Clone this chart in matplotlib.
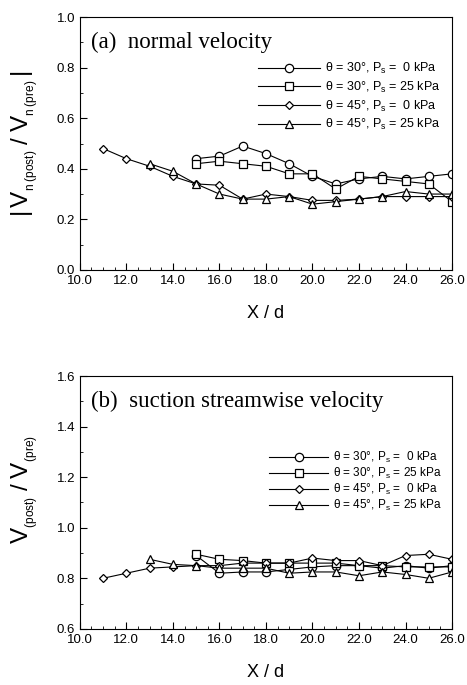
import numpy as np
import matplotlib
matplotlib.use('Agg')
from matplotlib import pyplot as plt
from matplotlib.ticker import MultipleLocator

# X/d positions
x_a30 = [15, 16, 17, 18, 19, 20, 21, 22, 23, 24, 25, 26]
x_a45p0 = [11, 12, 13, 14, 15, 16, 17, 18, 19, 20, 21, 22, 23, 24, 25, 26]
x_a45p25 = [13, 14, 15, 16, 17, 18, 19, 20, 21, 22, 23, 24, 25, 26]

# (a) normal velocity ratio
a_30_0 = [0.44, 0.45, 0.49, 0.46, 0.42, 0.37, 0.34, 0.36, 0.37, 0.36, 0.37, 0.38]
a_30_25 = [0.42, 0.43, 0.42, 0.41, 0.38, 0.38, 0.32, 0.37, 0.36, 0.35, 0.34, 0.27]
a_45_0 = [0.48, 0.44, 0.41, 0.37, 0.34, 0.335, 0.28, 0.30, 0.29, 0.275, 0.275, 0.28, 0.29, 0.29, 0.29, 0.29]
a_45_25 = [0.42, 0.39, 0.34, 0.30, 0.28, 0.28, 0.29, 0.26, 0.27, 0.28, 0.29, 0.31, 0.30, 0.30]

# (b) suction streamwise velocity ratio
x_b30 = [15, 16, 17, 18, 19, 20, 21, 22, 23, 24, 25, 26]
x_b45p0 = [11, 12, 13, 14, 15, 16, 17, 18, 19, 20, 21, 22, 23, 24, 25, 26]
x_b45p25 = [13, 14, 15, 16, 17, 18, 19, 20, 21, 22, 23, 24, 25, 26]
b_30_0 = [0.89, 0.82, 0.825, 0.825, 0.835, 0.845, 0.85, 0.85, 0.84, 0.85, 0.84, 0.85]
b_30_25 = [0.895, 0.875, 0.87, 0.86, 0.86, 0.86, 0.86, 0.85, 0.85, 0.845, 0.845, 0.845]
b_45_0 = [0.80, 0.82, 0.84, 0.845, 0.85, 0.85, 0.86, 0.86, 0.86, 0.88, 0.87, 0.87, 0.85, 0.89, 0.895, 0.875]
b_45_25 = [0.875, 0.855, 0.85, 0.84, 0.84, 0.84, 0.82, 0.825, 0.825, 0.81, 0.825, 0.815, 0.80, 0.825]

labels = [r'$\theta$ = 30°, P$_s$ =  0 kPa',
          r'$\theta$ = 30°, P$_s$ = 25 kPa',
          r'$\theta$ = 45°, P$_s$ =  0 kPa',
          r'$\theta$ = 45°, P$_s$ = 25 kPa']
markers = ['o', 's', 'D', '^']
msizes = [6, 6, 4.5, 6]

plt.rcParams['font.family'] = ['Liberation Sans', 'DejaVu Sans']
plt.rcParams['mathtext.fontset'] = 'custom'
plt.rcParams['mathtext.rm'] = 'Liberation Sans'
plt.rcParams['mathtext.it'] = 'Liberation Sans'

fig = plt.figure(figsize=(4.67, 6.85), dpi=100)
ax1 = fig.add_axes([0.171, 0.606, 0.797, 0.369])
ax2 = fig.add_axes([0.171, 0.082, 0.797, 0.369])

def draw(ax, xs, ys):
    for x, y, m, ms, lab in zip(xs, ys, markers, msizes, labels):
        ax.plot(x, y, color='black', lw=0.8, marker=m, ms=ms,
                mfc='white', mec='black', mew=0.9, label=lab)
    ax.set_xlim(10, 26)
    ax.xaxis.set_major_locator(MultipleLocator(2))
    ax.xaxis.set_minor_locator(MultipleLocator(0.5))
    ax.xaxis.set_major_formatter(plt.FormatStrFormatter('%.1f'))
    ax.yaxis.set_major_formatter(plt.FormatStrFormatter('%.1f'))
    ax.tick_params(which='both', direction='in', labelsize=9.5)
    ax.tick_params(which='major', length=5)
    ax.tick_params(which='minor', length=2.5)
    ax.set_xlabel('X / d', fontsize=13, labelpad=13)

draw(ax1, [x_a30, x_a30, x_a45p0, x_a45p25], [a_30_0, a_30_25, a_45_0, a_45_25])
ax1.set_ylim(0.0, 1.0)
ax1.yaxis.set_major_locator(MultipleLocator(0.2))
ax1.yaxis.set_minor_locator(MultipleLocator(0.1))
ax1.set_ylabel(r'$|\,\mathrm{V}_{_{n\;(post)}}\;/\;\mathrm{V}_{_{n\;(pre)}}\,|$',
               fontsize=17.5)
ax1.yaxis.set_label_coords(-0.105, 0.5)
ax1.text(0.03, 0.94, '(a)  normal velocity', transform=ax1.transAxes,
         fontsize=16.5, family='Liberation Serif', va='top')
ax1.legend(loc='upper right', frameon=False, fontsize=9,
           handlelength=5, labelspacing=0.28, handletextpad=0.4,
           bbox_to_anchor=(1.0, 0.87))

draw(ax2, [x_b30, x_b30, x_b45p0, x_b45p25], [b_30_0, b_30_25, b_45_0, b_45_25])
ax2.set_ylim(0.6, 1.6)
ax2.yaxis.set_major_locator(MultipleLocator(0.2))
ax2.yaxis.set_minor_locator(MultipleLocator(0.1))
ax2.set_ylabel(r'$\mathrm{V}_{_{(post)}}\;/\;\mathrm{V}_{_{(pre)}}$',
               fontsize=17.5)
ax2.yaxis.set_label_coords(-0.105, 0.55)
ax2.text(0.03, 0.94, '(b)  suction streamwise velocity', transform=ax2.transAxes,
         fontsize=16.5, family='Liberation Serif', va='top')
ax2.legend(loc='upper right', frameon=False, fontsize=8.5,
           handlelength=5, labelspacing=0.08, handletextpad=0.4,
           bbox_to_anchor=(1.0, 0.75))

fig.savefig('out.png', dpi=100)
